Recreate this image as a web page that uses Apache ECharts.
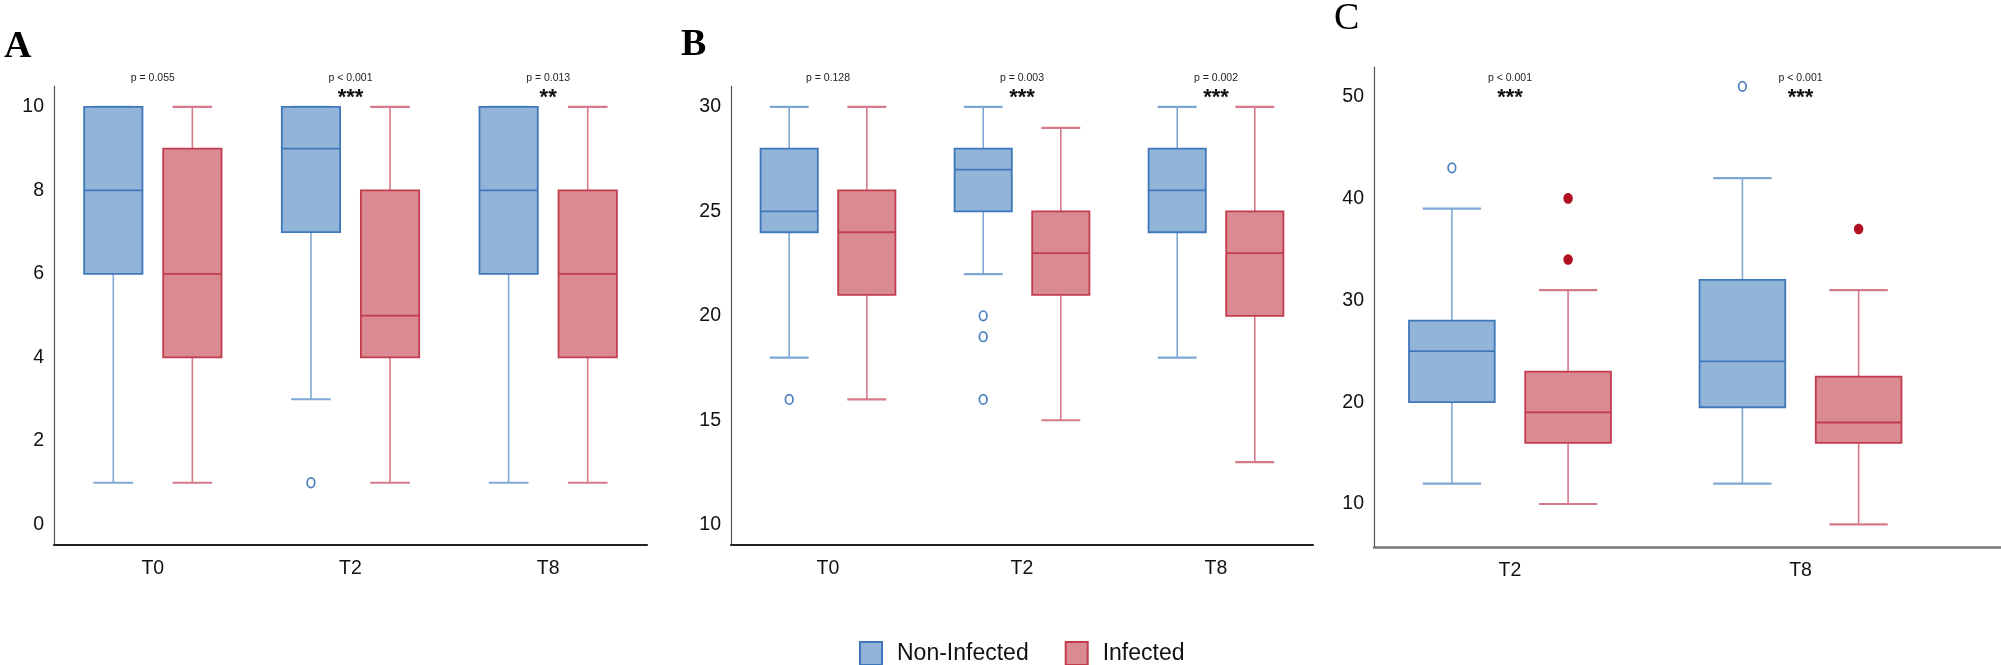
<!DOCTYPE html>
<html>
<head>
<meta charset="utf-8">
<script src="https://cdn.jsdelivr.net/npm/echarts@6/dist/echarts.min.js"></script>
<style>
  html, body { margin: 0; padding: 0; background: #fff; }
  #main { width: 2001px; height: 665px; }
</style>
</head>
<body>
<div id="main"></div>
<script>
// ---------- data ----------
const categoriesAB = ['T0', 'T2', 'T8'];
const categoriesC = ['T2', 'T8'];
// [min, Q1, median, Q3, max]
const nonInfA = [[1, 6, 8, 10, 10], [3, 7, 9, 10, 10], [1, 6, 8, 10, 10]];
const infA = [[1, 4, 6, 9, 10], [1, 4, 5, 8, 10], [1, 4, 6, 8, 10]];
const outNonInfA = [['T2', 1]];
const outInfA = [];
const nonInfB = [[18, 24, 25, 28, 30], [22, 25, 27, 28, 30], [18, 24, 26, 28, 30]];
const infB = [[16, 21, 24, 26, 30], [15, 21, 23, 25, 29], [13, 20, 23, 25, 30]];
const outNonInfB = [['T0', 16], ['T2', 20], ['T2', 19], ['T2', 16]];
const outInfB = [];
const nonInfC = [[12, 20, 25, 28, 39], [12, 19.5, 24, 32, 42]];
const infC = [[10, 16, 19, 23, 31], [8, 16, 18, 22.5, 31]];
const outNonInfC = [['T2', 43], ['T8', 51]];
const outInfC = [['T2', 40], ['T2', 34], ['T8', 37]];
const pTextA = ['p = 0.055', 'p < 0.001', 'p = 0.013'];
const starsA = ['', '***', '**'];
const pTextB = ['p = 0.128', 'p = 0.003', 'p = 0.002'];
const starsB = ['', '***', '***'];
const pTextC = ['p < 0.001', 'p < 0.001'];
const starsC = ['***', '***'];
const ticksA = [0, 2, 4, 6, 8, 10];
const ticksB = [10, 15, 20, 25, 30];
const ticksC = [10, 20, 30, 40, 50];

// ---------- fonts ----------
function hasFont(name) {
  const c = document.createElement('canvas').getContext('2d');
  const s = 'Non-Infected 0123456789';
  c.font = "40px monospace"; const a = c.measureText(s).width;
  c.font = "40px '" + name + "', monospace"; const b = c.measureText(s).width;
  return Math.abs(a - b) > 0.5;
}
const NARROW_OK = hasFont('Liberation Sans Narrow');
const FONT = (NARROW_OK ? "'Liberation Sans Narrow', " : "") + "'Liberation Sans', Arial, sans-serif";
const TICK_SIZE = NARROW_OK ? 20.5 : 19.5;
const P_SIZE = NARROW_OK ? 12 : 10.5;

// ---------- style ----------
const NI = { fill: '#92b4d8', edge: '#3f77bb', whisk: '#7fa7d3', out: '#4a80c1' };
const IN = { fill: '#d98a93', edge: '#c23c4e', whisk: '#d47a88', out: '#b0101f' };
const OFF = 0.2, BOXW = 0.295, CAP = 0.68;

function boxRender(side, col) {
  return function (params, api) {
    const c = api.value(0);
    const band = api.size([1, 0])[0];
    const x = api.coord([c, api.value(1)])[0] + side * band * OFF;
    const half = band * BOXW / 2, capH = half * CAP;
    const y = k => api.coord([c, api.value(k)])[1];
    const yMin = y(1), yQ1 = y(2), yMed = y(3), yQ3 = y(4), yMax = y(5);
    const ws = { stroke: col.whisk, lineWidth: 1.6 };
    return { type: 'group', children: [
      { type: 'line', shape: { x1: x, y1: yQ3, x2: x, y2: yMax }, style: ws },
      { type: 'line', shape: { x1: x, y1: yQ1, x2: x, y2: yMin }, style: ws },
      { type: 'line', shape: { x1: x - capH, y1: yMax, x2: x + capH, y2: yMax }, style: { stroke: col.whisk, lineWidth: 2.2 } },
      { type: 'line', shape: { x1: x - capH, y1: yMin, x2: x + capH, y2: yMin }, style: { stroke: col.whisk, lineWidth: 2.2 } },
      { type: 'rect', shape: { x: x - half, y: yQ3, width: 2 * half, height: yQ1 - yQ3 }, style: { fill: col.fill, stroke: col.edge, lineWidth: 1.8 } },
      { type: 'line', shape: { x1: x - half, y1: yMed, x2: x + half, y2: yMed }, style: { stroke: col.edge, lineWidth: 1.8 } }
    ]};
  };
}
function outRender(side, col, filled) {
  return function (params, api) {
    const c = api.value(0);
    const band = api.size([1, 0])[0];
    const p = api.coord([c, api.value(1)]);
    return { type: 'ellipse', shape: { cx: p[0] + side * band * OFF, cy: p[1], rx: filled ? 4.7 : 3.8, ry: filled ? 5.3 : 4.8 },
      style: filled ? { fill: col.out } : { fill: '#fff', stroke: col.out, lineWidth: 1.7 } };
  };
}
function textRender(texts, stars) {
  return function (params, api) {
    const c = api.value(0);
    const x = api.coord([c, api.value(1)])[0];
    const i = params.dataIndex;
    return { type: 'group', children: [
      { type: 'text', x: x, y: 78, style: { text: texts[i], font: P_SIZE + "px " + FONT, fill: '#222', align: 'center', verticalAlign: 'middle' } },
      { type: 'text', x: x, y: 98, style: { text: stars[i], font: "bold 22px 'Liberation Sans', Arial, sans-serif", fill: '#111', align: 'center', verticalAlign: 'middle' } }
    ]};
  };
}

const grids = [
  { left: 54, top: 86, width: 593, height: 459 },
  { left: 731, top: 86, width: 582, height: 459 },
  { left: 1374, top: 67, width: 627, height: 480 }
];
const yRanges = [[-0.49, 10.5], [9.03, 31.0], [5.78, 52.9]];
const yTicks = [ticksA, ticksB, ticksC];
const cats = [categoriesAB, categoriesAB, categoriesC];

const xLabel = { color: '#111', fontFamily: FONT, fontSize: TICK_SIZE, margin: 14 };
const xAxes = [
  { type: 'category', gridIndex: 0, data: categoriesAB,
    axisLine: { onZero: false, lineStyle: { color: '#222', width: 2.2 } }, axisTick: { show: false }, axisLabel: xLabel },
  { type: 'category', gridIndex: 1, data: categoriesAB,
    axisLine: { onZero: false, lineStyle: { color: '#222', width: 2.2 } }, axisTick: { show: false }, axisLabel: xLabel },
  { type: 'value', gridIndex: 2, min: -0.468, max: 1.69,
    axisLine: { onZero: false, lineStyle: { color: '#777', width: 2.6 } }, axisTick: { show: false }, splitLine: { show: false },
    axisLabel: Object.assign({}, xLabel, { customValues: [0, 1], formatter: v => categoriesC[Math.round(v)] }) }
];
const yAxes = yRanges.map((r, i) => ({
  type: 'value', gridIndex: i, min: r[0], max: r[1],
  axisLine: { show: true, onZero: false, lineStyle: { color: '#555', width: 1.2 } }, axisTick: { show: false },
  splitLine: { show: false },
  axisLabel: { customValues: yTicks[i], color: '#111', fontFamily: FONT, fontSize: TICK_SIZE, margin: 10 }
}));

function boxData(arr) { return arr.map((d, i) => [i].concat(d)); }
function outData(arr, catList) { return arr.map(d => [catList.indexOf(d[0]), d[1]]); }

const panels = [
  { ni: nonInfA, inf: infA, oni: outNonInfA, oin: outInfA, pt: pTextA, st: starsA },
  { ni: nonInfB, inf: infB, oni: outNonInfB, oin: outInfB, pt: pTextB, st: starsB },
  { ni: nonInfC, inf: infC, oni: outNonInfC, oin: outInfC, pt: pTextC, st: starsC }
];
const series = [];
panels.forEach((p, i) => {
  series.push({ type: 'custom', name: 'Non-Infected', xAxisIndex: i, yAxisIndex: i, renderItem: boxRender(-1, NI),
    itemStyle: { color: NI.fill, borderColor: NI.edge, borderWidth: 2 },
    encode: { x: 0, y: [1, 2, 3, 4, 5] }, data: boxData(p.ni), silent: true });
  series.push({ type: 'custom', name: 'Infected', xAxisIndex: i, yAxisIndex: i, renderItem: boxRender(1, IN),
    itemStyle: { color: IN.fill, borderColor: IN.edge, borderWidth: 2 },
    encode: { x: 0, y: [1, 2, 3, 4, 5] }, data: boxData(p.inf), silent: true });
  series.push({ type: 'custom', name: 'outNI' + i, xAxisIndex: i, yAxisIndex: i, renderItem: outRender(-1, NI, false),
    encode: { x: 0, y: 1 }, data: outData(p.oni, cats[i]), silent: true });
  series.push({ type: 'custom', name: 'outIN' + i, xAxisIndex: i, yAxisIndex: i, renderItem: outRender(1, IN, true),
    encode: { x: 0, y: 1 }, data: outData(p.oin, cats[i]), silent: true });
  series.push({ type: 'custom', name: 'p' + i, xAxisIndex: i, yAxisIndex: i, renderItem: textRender(p.pt, p.st),
    encode: { x: 0, y: 1 }, data: cats[i].map((c, k) => [k, yRanges[i][1]]), silent: true, clip: false });
});

const chart = echarts.init(document.getElementById('main'), null, { renderer: 'canvas' });
chart.setOption({
  animation: false,
  backgroundColor: '#fff',
  grid: grids,
  xAxis: xAxes,
  yAxis: yAxes,
  legend: {
    data: ['Non-Infected', 'Infected'], left: 854, top: 636,
    icon: 'rect', itemWidth: 22, itemHeight: 23, itemGap: 36,
    textStyle: { fontFamily: "'Liberation Sans', Arial, sans-serif", fontSize: 23, color: '#111', padding: [0, 0, 0, 10] }
  },
  graphic: [
    { type: 'text', left: 4, top: 28, style: { text: 'A', font: "bold 38px 'Liberation Serif', 'DejaVu Serif', serif", fill: '#000' } },
    { type: 'text', left: 681, top: 26, style: { text: 'B', font: "bold 38px 'Liberation Serif', 'DejaVu Serif', serif", fill: '#000' } },
    { type: 'text', left: 1334, top: 0, style: { text: 'C', font: "38px 'Liberation Serif', 'DejaVu Serif', serif", fill: '#000' } }
  ],
  series: series
});
</script>
</body>
</html>
